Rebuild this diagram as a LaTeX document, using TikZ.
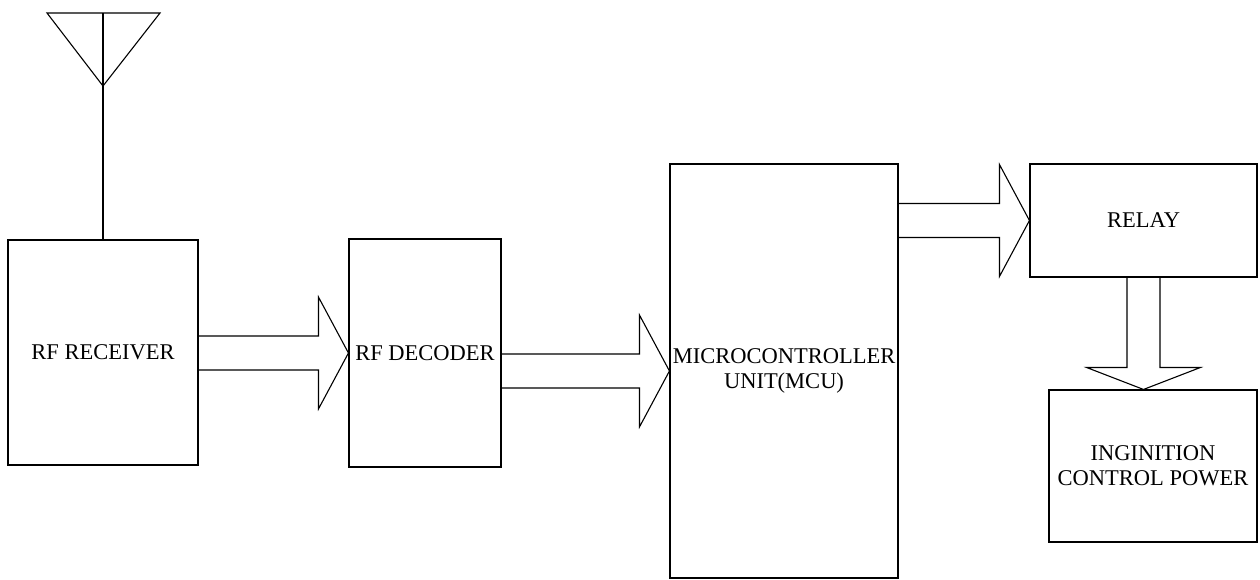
\documentclass[tikz,border=0pt]{standalone}
\usepackage{fontspec}
\setmainfont{Liberation Serif}
\usetikzlibrary{calc}

% block arrow pointing right, from a box to the middle of the next box
\newcommand{\rightblock}[2]{%
  \draw ($(#1.east |- #2.west)+(0,-17)$) -- ($(#2.west)+(-30,-17)$) -- ($(#2.west)+(-30,-56)$)
    -- (#2.west) -- ($(#2.west)+(-30,56)$) -- ($(#2.west)+(-30,17)$) -- ($(#1.east |- #2.west)+(0,17)$);}

\begin{document}
\begin{tikzpicture}[x=1pt, y=-1pt, line width=1.1pt,
  block/.style={draw, inner sep=0pt, align=center, font=\fontsize{22.5}{25}\selectfont}
]
\useasboundingbox (0,0) rectangle (1260,580);

\node[block, minimum width=190pt, minimum height=225pt] (rx) at (103,352.5) {RF RECEIVER};
\node[block, minimum width=152pt, minimum height=228pt] (dec) at (425,353) {RF DECODER};
\node[block, minimum width=228pt, minimum height=414pt] (mcu) at (784,371) {MICROCONTROLLER\\UNIT(MCU)};
\node[block, minimum width=227pt, minimum height=113pt] (relay) at (1143.5,220.5) {RELAY};
\node[block, minimum width=208pt, minimum height=152pt] (ign) at (1153,466) {INGINITION\\CONTROL POWER};

% antenna
\coordinate (ant) at (103,13);
\coordinate (anttip) at (103,86);
\draw (ant) ++(-56,0) -- ++(113,0) -- (anttip) -- cycle;
\draw (rx.north) -- (ant);

\rightblock{rx}{dec}
\rightblock{dec}{mcu}
\rightblock{mcu}{relay}

% relay down to ignition
\coordinate (dtip) at (relay.south |- ign.north);
\draw ($(relay.south)+(-16.5,0)$) -- ($(dtip)+(-16.5,-22)$) -- ($(dtip)+(-57,-22)$) -- (dtip)
  -- ($(dtip)+(57,-22)$) -- ($(dtip)+(16.5,-22)$) -- ($(relay.south)+(16.5,0)$);

\end{tikzpicture}
\end{document}
